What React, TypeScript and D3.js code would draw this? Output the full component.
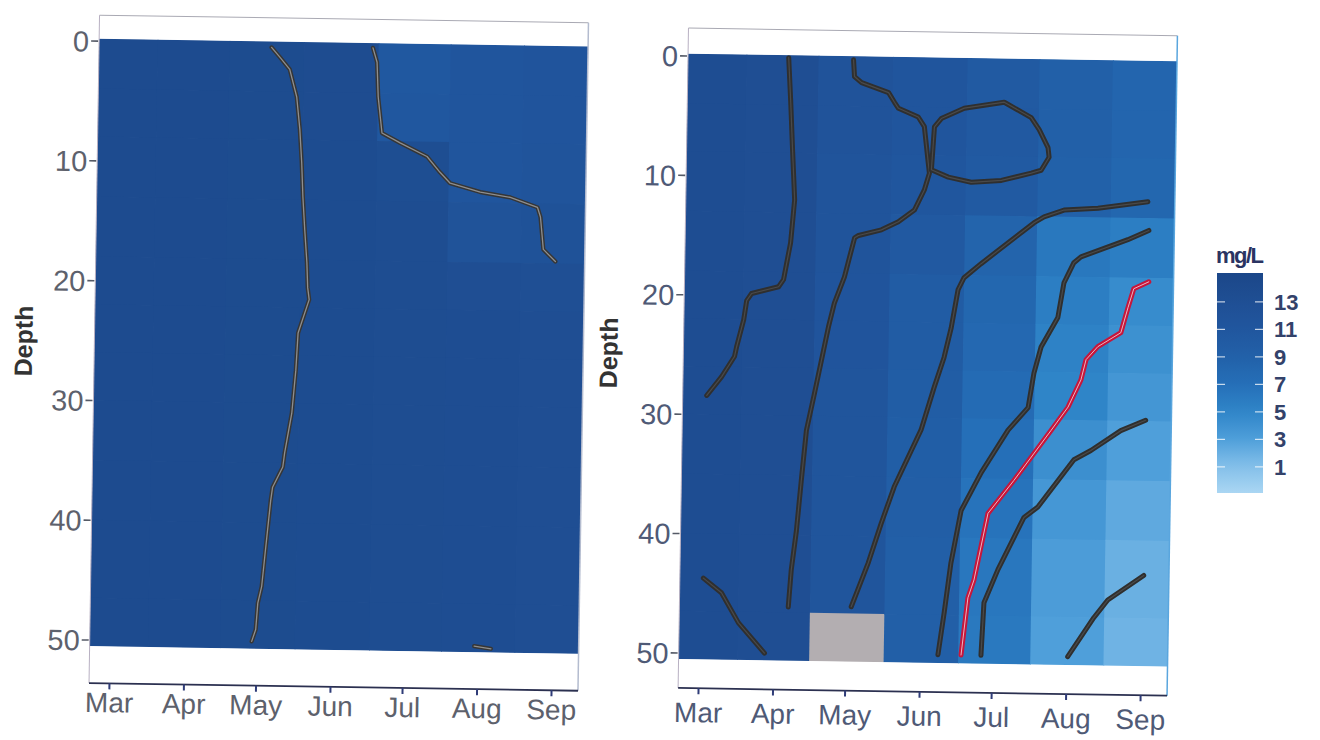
import React from "react";
import * as d3 from "d3";

// ---------- data ----------
const sampleDates = ["2019-03-02", "2019-04-01", "2019-05-01", "2019-06-02", "2019-07-02", "2019-08-01", "2019-09-01"];
const monthTicks = ["2019-03-01", "2019-04-01", "2019-05-01", "2019-06-01", "2019-07-01", "2019-08-01", "2019-09-01"];
const depthTicks = [0, 10, 20, 30, 40, 50];
const depthRows = [0, 4, 8, 13, 18, 22, 26, 30, 35, 40, 46.5];
const legendTicks = [1, 3, 5, 7, 9, 11, 13];

// dissolved oxygen (mg/L), one row per sampling date, one value per depth row
const leftGrid: (number | null)[][] = [
  [14.0, 14.0, 14.0, 14.0, 14.0, 14.0, 14.0, 14.0, 14.0, 14.0, 14.0],
  [14.0, 14.0, 14.0, 14.0, 14.0, 14.0, 14.0, 14.0, 14.0, 14.0, 14.0],
  [13.9, 13.9, 13.9, 13.9, 13.9, 13.9, 13.9, 13.9, 13.9, 13.9, 13.9],
  [13.7, 13.7, 13.8, 13.8, 13.8, 13.8, 13.8, 13.8, 13.8, 13.8, 13.8],
  [10.7, 10.9, 13.3, 13.5, 13.5, 13.6, 13.6, 13.6, 13.6, 13.6, 13.6],
  [11.2, 11.2, 11.3, 12.0, 13.2, 13.4, 13.4, 13.4, 13.4, 13.4, 13.4],
  [11.5, 11.5, 11.6, 12.2, 13.0, 13.2, 13.2, 13.2, 13.2, 13.2, 13.2],
];
const rightGrid: (number | null)[][] = [
  [13.4, 13.4, 13.4, 13.4, 13.4, 13.4, 13.4, 13.4, 13.4, 13.4, 13.4],
  [13.2, 13.2, 13.2, 13.2, 13.2, 13.2, 13.2, 13.2, 13.2, 13.2, 13.2],
  [11.8, 11.8, 11.7, 11.6, 11.5, 11.5, 11.4, 11.4, 11.4, 11.4, null],
  [11.2, 11.2, 11.0, 10.4, 10.0, 9.9, 9.8, 9.6, 9.5, 9.4, 9.4],
  [10.2, 10.4, 10.2, 8.6, 8.2, 8.0, 7.6, 7.0, 6.6, 6.3, 6.1],
  [9.2, 9.2, 9.0, 6.2, 5.6, 5.3, 5.0, 4.2, 3.6, 3.2, 3.0],
  [8.4, 8.4, 8.2, 5.6, 4.5, 4.1, 3.7, 3.0, 2.4, 2.0, 1.8],
];

// contour lines: [days since 1 March, depth]
const leftContourMay: [number, number][] = [
  [63.3, 0.3], [66.8, 1.1], [71.0, 2.1], [74.1, 4.4], [75.6, 7.1], [76.6, 9.9], [77.3, 12.7], [78.3, 15.5],
  [79.4, 18.2], [79.9, 20.3], [80.6, 21.3], [76.2, 24.1], [75.5, 27.2], [74.1, 30.8], [71.4, 34.1], [70.7, 35.3],
  [66.6, 37.0], [65.9, 38.1], [63.8, 42.8], [62.7, 45.3], [61.2, 46.7], [60.5, 48.9], [58.9, 49.9],
];
const leftContourJul: [number, number][] = [
  [105.5, 0.2], [107.3, 1.4], [108.0, 4.3], [109.8, 7.3], [117.4, 8.1], [128.7, 9.2], [134.2, 10.5], [138.5, 11.4],
  [151.1, 12.1], [163.6, 12.5], [175.0, 13.3], [176.3, 14.1], [177.7, 16.8], [182.8, 17.8],
];
const leftContourAug: [number, number][] = [[151.5, 50.0], [158.5, 50.2]];

const rightContourA: [number, number][] = [
  [33.4, 0.0], [34.5, 3.6], [35.6, 7.7], [36.8, 11.9], [35.4, 15.5], [32.7, 18.6], [30.7, 19.2], [19.5, 19.8],
  [17.5, 20.4], [16.4, 22.0], [13.6, 24.3], [12.8, 25.1], [7.6, 26.8], [1.5, 28.4],
];
const rightContourB: [number, number][] = [[1.3, 43.7], [8.9, 44.9], [16.2, 47.4], [27.2, 49.9]];
const rightContourC: [number, number][] = [
  [60.4, 0.1], [60.9, 1.5], [63.9, 2.0], [75.2, 2.8], [77.7, 3.6], [79.4, 4.1], [87.7, 4.8], [90.3, 5.6],
  [92.2, 8.7], [92.7, 9.5], [90.7, 10.9], [86.7, 12.6], [80.1, 13.6], [73.1, 14.3], [63.6, 14.8], [62.0, 15.0],
  [58.0, 18.3], [54.0, 20.5], [51.7, 22.5], [49.0, 25.3], [46.3, 28.1], [43.2, 31.2], [41.4, 35.4], [39.7, 39.6],
  [37.8, 42.9], [36.8, 46.0],
];
const rightContourLoop: [number, number][] = [
  [93.5, 9.2], [94.5, 5.6], [97.3, 4.9], [106.8, 4.0], [123.4, 3.45], [134.7, 4.7], [138.1, 5.7], [141.9, 7.2],
  [142.4, 8.0], [139.2, 9.1], [135.1, 9.35], [122.7, 10.0], [110.2, 10.2], [100.6, 9.8], [93.5, 9.2],
];
const rightContourD: [number, number][] = [
  [183.8, 11.6], [163.1, 12.2], [149.0, 12.4], [140.7, 13.0], [136.6, 13.5], [114.8, 17.0], [107.8, 18.2],
  [105.4, 19.2], [102.8, 22.4], [100.0, 24.9], [96.1, 27.4], [90.9, 31.0], [80.1, 35.8], [74.9, 38.9],
  [69.8, 42.2], [63.0, 45.9],
];
const rightContourF: [number, number][] = [
  [184.4, 14.0], [175.7, 14.8], [156.3, 16.3], [153.4, 16.8], [149.4, 18.5], [147.1, 21.4], [140.3, 23.9],
  [137.5, 26.1], [135.3, 29.0], [127.1, 30.9], [116.2, 34.5], [108.1, 37.7], [104.2, 42.1], [101.7, 46.3],
  [99.4, 49.8],
];
const rightContourRed: [number, number][] = [
  [184.7, 18.3], [178.5, 18.9], [176.2, 20.5], [173.4, 22.6], [163.9, 23.8], [159.1, 24.9], [157.1, 26.6],
  [151.9, 28.9], [144.9, 30.9], [129.9, 35.1], [119.3, 37.9], [113.9, 43.5], [111.5, 45.0], [109.0, 49.8],
];
const rightContourH: [number, number][] = [
  [184.3, 29.9], [174.0, 30.8], [161.7, 32.5], [154.7, 33.3], [140.0, 37.3], [134.3, 38.2], [123.8, 42.6],
  [118.2, 45.4], [117.3, 49.8],
];
const rightContourI: [number, number][] = [[184.5, 42.9], [169.7, 45.0], [164.0, 46.5], [153.4, 49.8]];

// ---------- helpers ----------
const parse = d3.timeParse("%Y-%m-%d");
const BASE = parse("2019-03-01") as Date;
const dayToDate = (d: number) => new Date(BASE.getTime() + d * 86400000);
const samples = sampleDates.map((s) => parse(s) as Date);
const ticks = monthTicks.map((s) => parse(s) as Date);
const xDomain = [dayToDate(-8.5), dayToDate(195)];
const GRID_TOP = -0.2;
const GRID_BOTTOM = 50.5;

const colorStops = [-0.9, 1, 3, 5, 7, 9, 11, 13, 15.1];
const colorRange = ["#aad6f3", "#84c0ea", "#4f9fda", "#2f85c8", "#256fb8", "#2261a9", "#20569e", "#1f4f94", "#1b4789"];
const color = d3.scaleLinear<string>().domain(colorStops).range(colorRange).interpolate(d3.interpolateRgb);
const NA_COLOR = "#b3aeb1";

const FONT = "'Liberation Sans', Arial, Helvetica, sans-serif";

type Line = { pts: [number, number][]; kind: "grey" | "dark" | "red" };

interface PanelProps {
  id: string;
  grid: (number | null)[][];
  lines: Line[];
  x0: number; x1: number; top: number; bottom: number;
  y0px: number; y50px: number;
  pivot: [number, number];
  xLabelY: number;
  titleX: number; titleY: number;
  tickColor: string;
  edgeColor: string;
}

const lineStyle = {
  grey: { outer: "#363636", inner: "#8e8e8e", w: 4.2, wi: 1.3 },
  dark: { outer: "#2f2f2f", inner: "#4a4a4a", w: 5, wi: 1.2 },
  red: { outer: "#c6163b", inner: "#f0c4d0", w: 5, wi: 0.9 },
};

function Panel(p: PanelProps) {
  const x = d3.scaleTime().domain(xDomain).range([p.x0, p.x1]);
  const y = d3.scaleLinear().domain([0, 50]).range([p.y0px, p.y50px]);
  const line = d3.line<[number, number]>().x((d) => x(dayToDate(d[0]))).y((d) => y(d[1]));

  const tiles: JSX.Element[] = [];
  samples.forEach((s, i) => {
    const prev = i === 0 ? new Date(2 * s.getTime() - samples[1].getTime()) : samples[i - 1];
    const next = i === samples.length - 1 ? new Date(2 * s.getTime() - samples[i - 1].getTime()) : samples[i + 1];
    const l = x(new Date((prev.getTime() + s.getTime()) / 2));
    const r = x(new Date((next.getTime() + s.getTime()) / 2));
    depthRows.forEach((d, j) => {
      const t = y(j === 0 ? GRID_TOP : d);
      const b = y(j === depthRows.length - 1 ? GRID_BOTTOM : depthRows[j + 1]);
      const v = p.grid[i][j];
      tiles.push(
        <rect key={`${i}-${j}`} x={l - 0.4} y={t - 0.4} width={r - l + 0.8} height={b - t + 0.8}
          fill={v === null ? NA_COLOR : color(v)} />
      );
    });
  });

  const clipId = `clip-${p.id}`;
  const gTop = y(GRID_TOP);
  const gBot = y(GRID_BOTTOM);

  return (
    <g transform={`rotate(0.9, ${p.pivot[0]}, ${p.pivot[1]})`}>
      <defs>
        <clipPath id={clipId}>
          <rect x={p.x0} y={gTop} width={p.x1 - p.x0} height={gBot - gTop} />
        </clipPath>
      </defs>
      <rect x={p.x0} y={p.top} width={p.x1 - p.x0} height={p.bottom - p.top} fill="#ffffff" />
      <g clipPath={`url(#${clipId})`}>
        {tiles}
        {p.lines.map((ln, k) => {
          const dpath = line(ln.pts) || "";
          const st = lineStyle[ln.kind];
          return (
            <g key={k}>
              <path d={dpath} fill="none" stroke={st.outer} strokeWidth={st.w} strokeLinejoin="round" strokeLinecap="round" />
              <path d={dpath} fill="none" stroke={st.inner} strokeWidth={st.wi} strokeLinejoin="round" strokeLinecap="round" />
            </g>
          );
        })}
      </g>
      {/* frame */}
      <line x1={p.x0} x2={p.x1} y1={p.top} y2={p.top} stroke="#a9a9b3" strokeWidth={1} />
      <line x1={p.x1} x2={p.x1} y1={p.top} y2={p.bottom} stroke={p.edgeColor} strokeWidth={1.5} />
      <line x1={p.x0} x2={p.x0} y1={p.top} y2={p.bottom} stroke="#b8b0c2" strokeWidth={1} />
      <line x1={p.x0} x2={p.x1} y1={p.bottom} y2={p.bottom} stroke="#2b3050" strokeWidth={1.8} />
      {/* x axis */}
      {ticks.map((t, i) => (
        <g key={`xt${i}`}>
          <line x1={x(t)} x2={x(t)} y1={p.bottom} y2={p.bottom + 6} stroke="#2f3c78" strokeWidth={2} />
          <text x={x(t)} y={p.xLabelY} textAnchor="middle" fontFamily={FONT} fontSize={28} fill={p.tickColor}>
            {d3.timeFormat("%b")(t)}
          </text>
        </g>
      ))}
      {/* y axis */}
      {depthTicks.map((d) => (
        <g key={`yt${d}`}>
          <line x1={p.x0 - 8} x2={p.x0 - 1} y1={y(d)} y2={y(d)} stroke="#555a66" strokeWidth={1.6} />
          <text x={p.x0 - 10} y={y(d)} dy="0.36em" textAnchor="end" fontFamily={FONT} fontSize={29} fill={p.tickColor}>
            {d}
          </text>
        </g>
      ))}
      <text transform={`translate(${p.titleX}, ${p.titleY}) rotate(-90)`} textAnchor="middle" dy="0.36em"
        fontFamily={FONT} fontSize={25} fontWeight="bold" fill="#333333">
        Depth
      </text>
    </g>
  );
}

function Legend() {
  const top = 273, bottom = 493, left = 1217, width = 46;
  const ly = d3.scaleLinear().domain([colorStops[colorStops.length - 1], colorStops[0]]).range([top, bottom]);
  const stops = d3.range(0, 21).map((i) => {
    const v = colorStops[colorStops.length - 1] - (i / 20) * (colorStops[colorStops.length - 1] - colorStops[0]);
    return { offset: `${(i / 20) * 100}%`, c: color(v) };
  });
  return (
    <g>
      <defs>
        <linearGradient id="legGrad" x1="0" y1="0" x2="0" y2="1">
          {stops.map((s, i) => <stop key={i} offset={s.offset} stopColor={s.c} />)}
        </linearGradient>
      </defs>
      <text x={1216} y={263} fontFamily={FONT} fontSize={22} fontWeight="bold" fill="#2a3462" letterSpacing={-1.5}>
        mg/L
      </text>
      <rect x={left} y={top} width={width} height={bottom - top} fill="url(#legGrad)" />
      {legendTicks.map((t) => (
        <g key={t}>
          <line x1={left} x2={left + 8} y1={ly(t)} y2={ly(t)} stroke="#ffffff" strokeOpacity={0.75} strokeWidth={1.2} />
          <line x1={left + width - 8} x2={left + width} y1={ly(t)} y2={ly(t)} stroke="#ffffff" strokeOpacity={0.75} strokeWidth={1.2} />
          <text x={1274} y={ly(t)} dy="0.36em" fontFamily={FONT} fontSize={22} fontWeight="bold" fill="#33426a">
            {t}
          </text>
        </g>
      ))}
    </g>
  );
}

export default function App() {
  const leftLines: Line[] = [
    { pts: leftContourMay, kind: "grey" },
    { pts: leftContourJul, kind: "grey" },
    { pts: leftContourAug, kind: "grey" },
  ];
  const rightLines: Line[] = [
    { pts: rightContourA, kind: "dark" },
    { pts: rightContourB, kind: "dark" },
    { pts: rightContourC, kind: "dark" },
    { pts: rightContourLoop, kind: "dark" },
    { pts: rightContourD, kind: "dark" },
    { pts: rightContourF, kind: "dark" },
    { pts: rightContourRed, kind: "red" },
    { pts: rightContourH, kind: "dark" },
    { pts: rightContourI, kind: "dark" },
  ];
  return (
    <svg width={1320} height={740} viewBox="0 0 1320 740"
      style={{ position: "absolute", left: 0, top: 0, background: "#ffffff" }}>
      <rect x={0} y={0} width={1320} height={740} fill="#ffffff" />
      <Panel id="left" grid={leftGrid} lines={leftLines} x0={89} x1={578} top={15} bottom={683}
        y0px={41} y50px={640} pivot={[85, 685]} xLabelY={712} titleX={18} titleY={342}
        tickColor="#5d616c" edgeColor="#b4bccf" />
      <Panel id="right" grid={rightGrid} lines={rightLines} x0={678} x1={1167} top={28} bottom={688}
        y0px={56} y50px={653} pivot={[680, 695]} xLabelY={722} titleX={603} titleY={354}
        tickColor="#4f5a76" edgeColor="#5aa6de" />
      <Legend />
    </svg>
  );
}
